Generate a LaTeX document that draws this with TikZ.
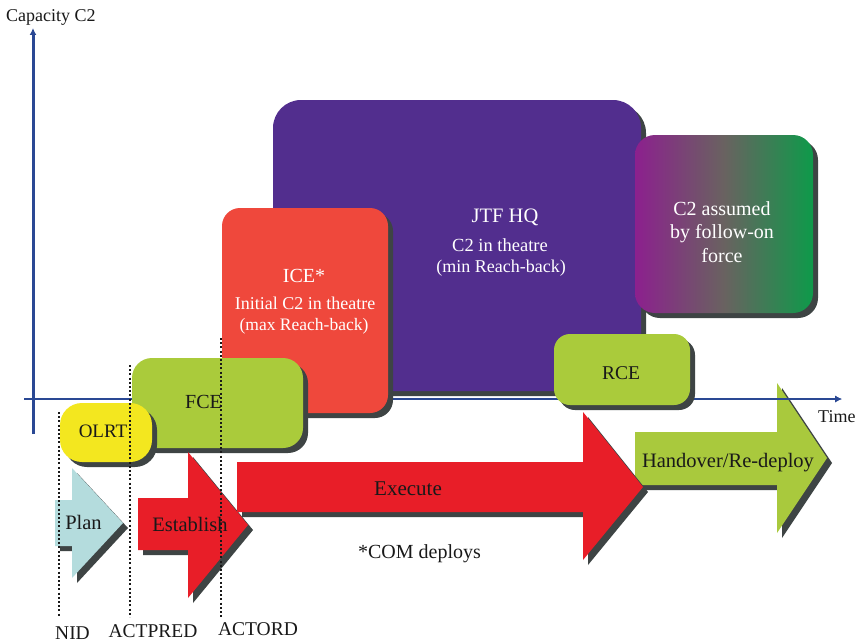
\documentclass[tikz,border=0pt]{standalone}
\usepackage{fontspec}
\setmainfont{Liberation Serif}
\usetikzlibrary{shadows,arrows.meta}

\definecolor{axisblue}{RGB}{42,72,148}
\definecolor{jtfpurple}{RGB}{82,46,142}
\definecolor{icered}{RGB}{239,72,60}
\definecolor{fcegreen}{RGB}{170,203,59}
\definecolor{olrtyellow}{RGB}{243,231,31}
\definecolor{arrowred}{RGB}{232,30,40}
\definecolor{planblue}{RGB}{180,220,221}
\definecolor{handgreen}{RGB}{169,201,61}
\definecolor{fopurple}{RGB}{140,32,142}
\definecolor{fogreen}{RGB}{14,154,74}
\definecolor{fomid}{RGB}{105,98,96}
\definecolor{shadowgray}{RGB}{62,68,68}
\definecolor{inkblack}{RGB}{25,25,25}

\newcommand{\sz}[1]{\fontsize{#1}{#1}\selectfont}

\tikzset{
  shadowed/.style={drop shadow={shadow xshift=5pt, shadow yshift=-5pt, fill=shadowgray, opacity=1}},
  box/.style={rectangle, inner sep=0pt, shadowed},
  lbl/.style={anchor=base, inner sep=0pt, text=inkblack},
  wlbl/.style={anchor=base, inner sep=0pt, text=white},
  milestone/.style={draw=inkblack, line width=2.2pt, dash pattern=on 2pt off 2.2pt},
  axisline/.style={draw=axisblue, -{Latex[length=7pt,width=7pt]}},
}

\begin{document}
\begin{tikzpicture}[x=1pt, y=-1pt]
\useasboundingbox[fill=white] (0,0) rectangle (858,642);

% axes
\coordinate (yfoot) at (33,434);
\coordinate (ytip) at (33,28);
\coordinate (xfoot) at (24,399);
\coordinate (xtip) at (842,399);
\coordinate (xmid) at (700,399);
\draw[axisline, line width=3pt] (yfoot) -- (ytip);
\draw[axisline, line width=2.5pt] (xfoot) -- (xtip);

% command elements
\node[box, fill=jtfpurple, rounded corners=28pt, minimum width=368pt, minimum height=291pt] (jtf) at (457,245.5) {};
\node[box, left color=fopurple, right color=fogreen, middle color=fomid, rounded corners=20pt, minimum width=178pt, minimum height=178pt] (follow) at (724,224) {};
\node[box, fill=icered, rounded corners=18pt, minimum width=166pt, minimum height=205pt] (ice) at (305,310.5) {};
\node[box, fill=fcegreen, rounded corners=20pt, minimum width=171pt, minimum height=90pt] (fce) at (217.5,403) {};
\node[box, fill=olrtyellow, rounded corners=22pt, minimum width=92pt, minimum height=59pt] (olrt) at (106,432.5) {};
\node[box, fill=fcegreen, rounded corners=16pt, minimum width=136pt, minimum height=71pt] (rce) at (622,369.5) {};

% phase arrows
\fill[planblue, shadowed] (55,500) -- (72,500) -- (72,468) -- (123,523) -- (72,578) -- (72,546) -- (55,546) -- cycle;
\fill[arrowred, shadowed] (138,498) -- (188,498) -- (188,452) -- (248,525) -- (188,598) -- (188,550) -- (138,550) -- cycle;
\fill[handgreen, shadowed] (635,432) -- (777,432) -- (777,383) -- (827,458) -- (777,533) -- (777,485) -- (635,485) -- cycle;
\fill[arrowred, shadowed] (237,462) -- (583,462) -- (583,412) -- (643,487) -- (583,560) -- (583,512) -- (237,512) -- cycle;

% time axis runs over the last phase arrow
\draw[axisline, line width=2.5pt] (xmid) -- (xtip);

% milestones
\coordinate (nidtop) at (59,412);
\coordinate (nidbot) at (59,617);
\coordinate (predtop) at (130,365);
\coordinate (predbot) at (130,617);
\coordinate (ordtop) at (221,338);
\coordinate (ordbot) at (221,617);
\draw[milestone] (nidtop) -- (nidbot);
\draw[milestone] (predtop) -- (predbot);
\draw[milestone] (ordtop) -- (ordbot);

% labels
\node[lbl, anchor=base west, font=\sz{18}] (ylabel) at (6,22) {Capacity C2};
\node[lbl, anchor=base west, font=\sz{18}] (xlabel) at (818,422) {Time};

\node[wlbl, font=\sz{20.5}] (jtf1) at (505,222) {JTF HQ};
\node[wlbl, font=\sz{18.5}] (jtf2) at (500,251) {C2 in theatre};
\node[wlbl, font=\sz{18}] (jtf3) at (501,272) {(min Reach-back)};

\node[wlbl, font=\sz{20}] (ice1) at (304,282) {ICE*};
\node[wlbl, font=\sz{18}] (ice2) at (305,309) {Initial C2 in theatre};
\node[wlbl, font=\sz{17.5}] (ice3) at (304,330) {(max Reach-back)};

\node[wlbl, font=\sz{20}] (fol1) at (722,215) {C2 assumed};
\node[wlbl, font=\sz{20}] (fol2) at (722,238) {by follow-on};
\node[wlbl, font=\sz{20}] (fol3) at (722,262) {force};

\node[lbl, font=\sz{19.5}] (rcet) at (621,379) {RCE};
\node[lbl, font=\sz{20}] (fcet) at (203.5,408) {FCE};
\node[lbl, font=\sz{19}] (olrtt) at (103,437) {OLRT};

\node[lbl, font=\sz{20.5}] (plant) at (83.5,529) {Plan};
\node[lbl, font=\sz{20.5}] (estt) at (190,531) {Establish};
\node[lbl, font=\sz{21}] (exet) at (408,495) {Execute};
\node[lbl, font=\sz{20.5}] (handt) at (728,467) {Handover/Re-deploy};
\node[lbl, font=\sz{20}] (comt) at (419.5,558) {*COM deploys};

\node[lbl, font=\sz{19.5}] (nid) at (72.5,639) {NID};
\node[lbl, font=\sz{19.5}] (actpred) at (153,637) {ACTPRED};
\node[lbl, font=\sz{19.5}] (actord) at (258,635) {ACTORD};
\end{tikzpicture}
\end{document}
